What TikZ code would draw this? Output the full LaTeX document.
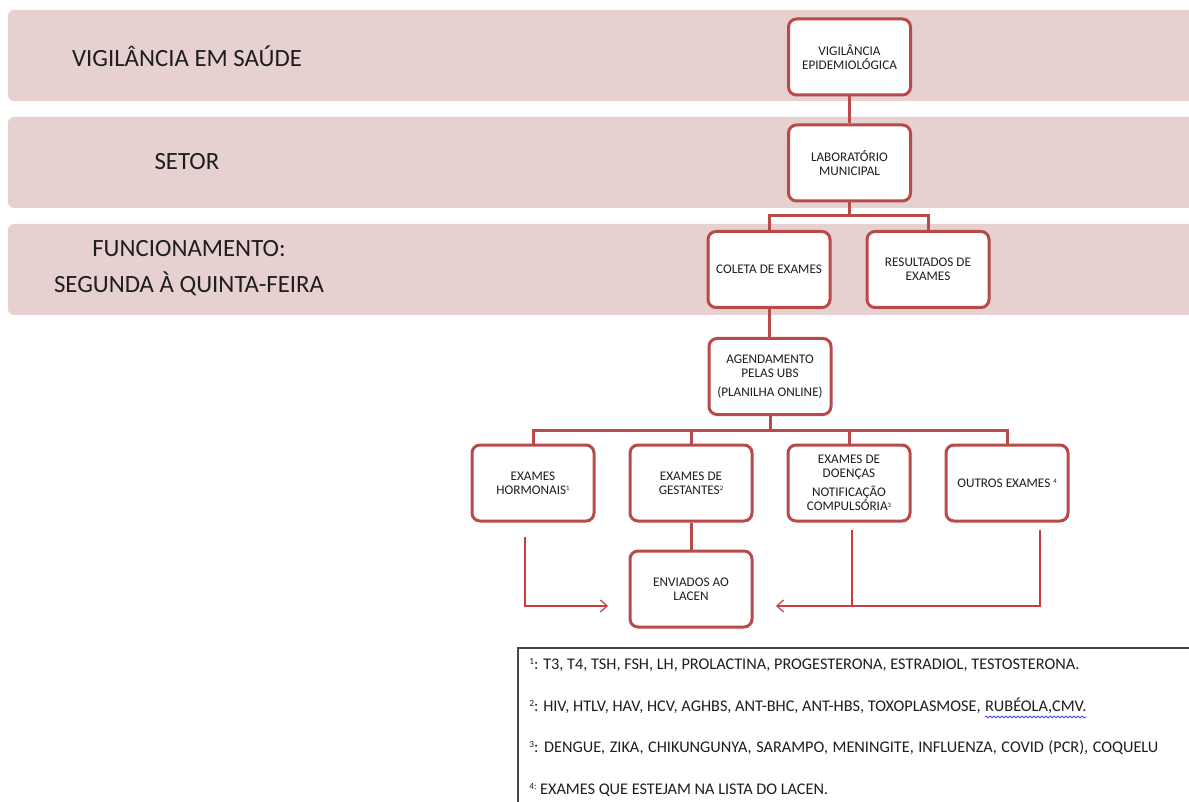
\documentclass[tikz,border=0pt]{standalone}
\usepackage{fontspec}
\setmainfont{Carlito}
\usetikzlibrary{arrows.meta,decorations.pathmorphing}
\definecolor{band}{RGB}{231,208,208}
\definecolor{boxred}{RGB}{184,74,74}
\definecolor{thinred}{RGB}{200,62,62}
\definecolor{txt}{RGB}{30,30,30}
\definecolor{notegray}{RGB}{70,70,70}
\newcommand{\fsup}[1]{\raisebox{0.6ex}{\fontsize{5}{5}\selectfont #1}}
\newcommand{\nsup}[1]{\raisebox{0.75ex}{\fontsize{7}{7}\selectfont #1}}
\tikzset{
  bandfill/.style={fill=band, rounded corners=4.5pt},
  bandtext/.style={font=\fontsize{18.6}{27}\selectfont, text=txt, align=center, inner sep=0pt},
  stepbox/.style={draw=boxred, line width=2.25pt, rounded corners=6pt, fill=white,
    minimum width=91.5pt, minimum height=57pt, align=center, text=txt,
    font=\fontsize{9.9}{10.5}\selectfont, inner sep=2pt},
  link/.style={draw=boxred, line width=2.25pt},
  thinarrow/.style={draw=thinred, line width=0.9pt, -{Straight Barb[length=5pt,width=9pt]}},
  thinline/.style={draw=thinred, line width=0.9pt},
  notetext/.style={font=\fontsize{12.2}{13}\selectfont, text=txt, anchor=west, inner sep=0pt}
}
\begin{document}
\begin{tikzpicture}[x=0.75pt,y=-0.75pt]
\useasboundingbox (0,0) rectangle (1189,802);
\clip (0,0) rectangle (1189,802);
\fill[white] (0,0) rectangle (1189,802);
% bands
\fill[bandfill] (8,10) rectangle (1210,101);
\fill[bandfill] (8,117) rectangle (1210,208);
\fill[bandfill] (8,224) rectangle (1210,315);
\node[bandtext] (t1) at (187,56) {VIGILÂNCIA EM SAÚDE};
\node[bandtext] (t2) at (187,162) {SETOR};
\node[bandtext] (t3) at (189,268) {FUNCIONAMENTO:\\SEGUNDA À QUINTA-FEIRA};
% boxes
\node[stepbox] (ve) at (849.5,57) {VIGILÂNCIA\\EPIDEMIOLÓGICA};
\node[stepbox] (lab) at (849.5,163) {LABORATÓRIO\\MUNICIPAL};
\node[stepbox] (col) at (769,269.5) {COLETA DE EXAMES};
\node[stepbox] (res) at (928,269.5) {RESULTADOS DE\\EXAMES};
\node[stepbox] (age) at (770,376.5) {AGENDAMENTO\\PELAS UBS\\[4pt](PLANILHA ONLINE)};
\node[stepbox] (hor) at (533,483) {EXAMES\\HORMONAIS\fsup{1}};
\node[stepbox] (ges) at (691,483) {EXAMES DE\\GESTANTES\fsup{2}};
\node[stepbox] (doe) at (849,483) {EXAMES DE\\DOENÇAS\\[4pt]NOTIFICAÇÃO\\COMPULSÓRIA\fsup{3}};
\node[stepbox] (out) at (1007,483) {OUTROS EXAMES \fsup{4}};
\node[stepbox] (env) at (691,589) {ENVIADOS AO\\LACEN};
% connectors
\coordinate (b1) at (849.5,216);
\coordinate (b2) at (770,430);
\path[link] (ve) -- (lab);
\path[link] (lab.south) -- (b1);
\path[link] (b1) -| (col.north);
\path[link] (b1) -| (res.north);
\path[link] (col.south) -- (col.south |- age.north);
\path[link] (age.south) -- (b2);
\path[link] (b2) -| (hor.north);
\path[link] (b2) -| (ges.north);
\path[link] (b2) -| (doe.north);
\path[link] (b2) -| (out.north);
\path[link] (ges) -- (env);
% thin arrows
\coordinate (h1) at (525,537);
\coordinate (h2) at (608,606);
\coordinate (d1) at (852,530);
\coordinate (o1) at (1040,530);
\coordinate (m1) at (776,606);
\draw[thinarrow] (h1) |- (h2);
\draw[thinarrow] (o1) |- (m1);
\draw[thinline] (d1) -- (d1 |- m1);
% notes box
\draw[notegray, line width=0.9pt] (518,648) rectangle (1215,815);
\node[notetext] (n1) at (529,665) {\nsup{1}: T3, T4, TSH, FSH, LH, PROLACTINA, PROGESTERONA, ESTRADIOL, TESTOSTERONA.};
\node[notetext] (n2) at (529,707) {\nsup{2}: HIV, HTLV, HAV, HCV, AGHBS, ANT-BHC, ANT-HBS, TOXOPLASMOSE,};
\node[notetext, anchor=base west] (n2b) at ([xshift=3pt]n2.base east) {RUBÉOLA,CMV.};
\draw[blue!75!white, line width=0.6pt, decorate, decoration={snake, amplitude=0.7pt, segment length=3pt}]
  ([yshift=-2pt]n2b.south west) -- ([yshift=-2pt]n2b.south east);
\node[notetext] (n3) at (529,748) {\spaceskip=3.4pt plus 1pt\relax\nsup{3}: DENGUE, ZIKA, CHIKUNGUNYA, SARAMPO, MENINGITE, INFLUENZA, COVID (PCR), COQUELU};
\node[notetext] (n4) at (529,790) {\nsup{4:} EXAMES QUE ESTEJAM NA LISTA DO LACEN.};
\end{tikzpicture}
\end{document}
